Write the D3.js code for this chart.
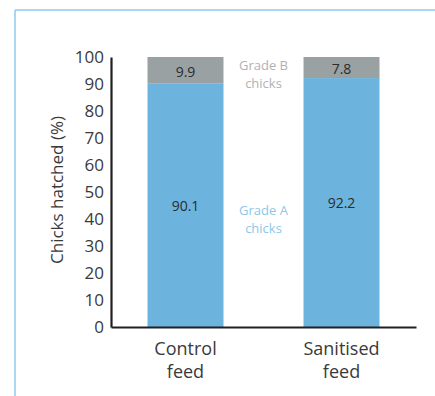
<!DOCTYPE html>
<html>
<head>
<meta charset="utf-8">
<script src="https://cdn.jsdelivr.net/npm/d3@7"></script>
<style>
  html, body { margin: 0; padding: 0; background: #fff; }
  svg { display: block; font-family: "Open Sans", Lato, sans-serif; }
</style>
</head>
<body>
<svg id="chart" width="435" height="396"></svg>
<script>
// Hatching outcome by feed type (% of chicks)
const categories = [["Control", "feed"], ["Sanitised", "feed"]];
const gradeA = [90.1, 92.2];
const gradeB = [9.9, 7.8];
const yTicks = [0, 10, 20, 30, 40, 50, 60, 70, 80, 90, 100];
const seriesNames = [["Grade A", "chicks"], ["Grade B", "chicks"]];

const colA = "#6cb4de";
const colB = "#9aa1a3";
const font = "'Open Sans', Lato, sans-serif";
const ink = "#3a3a3a";

const svg = d3.select("#chart");

// panel frame (top and left rules)
svg.append("line").attr("x1", 15).attr("x2", 435).attr("y1", 10).attr("y2", 10)
  .attr("stroke", "#8fcaee").attr("stroke-width", 1.5);
svg.append("line").attr("x1", 15).attr("x2", 15).attr("y1", 10).attr("y2", 396)
  .attr("stroke", "#8fcaee").attr("stroke-width", 1.5);

const x = d3.scaleBand()
  .domain(categories.map(c => c.join(" ")))
  .range([111, 416])
  .paddingInner(0.513)
  .paddingOuter(0.234);

const y = d3.scaleLinear().domain([0, 100]).range([327, 57]);

const rows = categories.map((c, i) => ({ key: c.join(" "), lines: c, a: gradeA[i], b: gradeB[i] }));

// stacked bars
const g = svg.append("g");
g.selectAll("rect.a").data(rows).join("rect")
  .attr("class", "a")
  .attr("x", d => x(d.key)).attr("width", x.bandwidth())
  .attr("y", d => y(d.a)).attr("height", d => y(0) - y(d.a))
  .attr("fill", colA);
g.selectAll("rect.b").data(rows).join("rect")
  .attr("class", "b")
  .attr("x", d => x(d.key)).attr("width", x.bandwidth())
  .attr("y", d => y(d.a + d.b)).attr("height", d => y(d.a) - y(d.a + d.b))
  .attr("fill", colB);

// value labels centred in each segment
g.selectAll("text.va").data(rows).join("text")
  .attr("class", "va")
  .attr("x", d => x(d.key) + x.bandwidth() / 2)
  .attr("y", d => (y(0) + y(d.a)) / 2)
  .attr("text-anchor", "middle").attr("dominant-baseline", "central")
  .attr("font-size", 14).attr("fill", "#2b2b2b")
  .text(d => d.a);
g.selectAll("text.vb").data(rows).join("text")
  .attr("class", "vb")
  .attr("x", d => x(d.key) + x.bandwidth() / 2)
  .attr("y", d => (y(d.a) + y(d.a + d.b)) / 2 + 1)
  .attr("text-anchor", "middle").attr("dominant-baseline", "central")
  .attr("font-size", 14).attr("fill", "#2b2b2b")
  .text(d => d.b);

// series labels between the bars, one text per line
const midX = (x(rows[0].key) + x.bandwidth() + x(rows[1].key)) / 2;
seriesNames[0].forEach((t, i) => svg.append("text")
  .attr("x", midX).attr("y", (y(0) + y(gradeA[0])) / 2 + 10 + i * 17.5)
  .attr("text-anchor", "middle").attr("font-size", 13).attr("fill", "#8ec6e8")
  .text(t));
seriesNames[1].forEach((t, i) => svg.append("text")
  .attr("x", midX).attr("y", y(100) + 13 + i * 17.5)
  .attr("text-anchor", "middle").attr("font-size", 13).attr("fill", "#aeb2b4")
  .text(t));

// y axis
const yAxis = svg.append("g").attr("transform", "translate(111,0)")
  .call(d3.axisLeft(y).tickValues(yTicks).tickSize(0).tickPadding(7));
yAxis.select(".domain").attr("stroke", "#231f20").attr("stroke-width", 2.2);
yAxis.selectAll(".tick text").attr("font-size", 17).attr("fill", ink)
  .attr("font-family", font);

// x axis
const xAxis = svg.append("g").attr("transform", "translate(0,327)")
  .call(d3.axisBottom(x).tickSize(0).tickFormat(""));
xAxis.select(".domain").attr("stroke", "#231f20").attr("stroke-width", 2.2);
xAxis.selectAll(".tick").each(function(d) {
  const lines = d.split(" ");
  const t = d3.select(this).append("text").attr("text-anchor", "middle")
    .attr("font-size", 18).attr("fill", ink).attr("font-family", font);
  lines.forEach((l, i) => t.append("tspan").attr("x", 0).attr("y", 28 + i * 23).text(l));
});

// y axis title
svg.append("text")
  .attr("transform", "translate(63,190) rotate(-90)")
  .attr("text-anchor", "middle")
  .attr("font-size", 17).attr("fill", ink)
  .text("Chicks hatched (%)");
</script>
</body>
</html>
